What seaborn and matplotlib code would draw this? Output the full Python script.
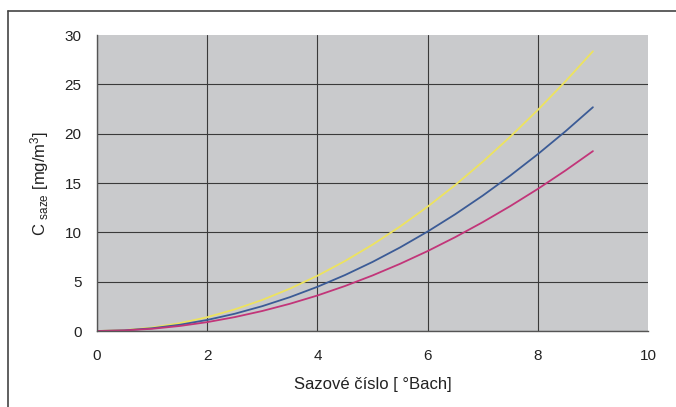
import numpy as np
import pandas as pd
import matplotlib
matplotlib.use('Agg')
import matplotlib.pyplot as plt
from matplotlib.lines import Line2D
import seaborn as sns

# values
x_bach = [0, 0.5, 1, 1.5, 2, 2.5, 3, 3.5, 4, 4.5, 5, 5.5, 6, 6.5, 7, 7.5, 8, 8.5, 9]
c_yellow = [0, 0.09, 0.35, 0.79, 1.4, 2.19, 3.15, 4.29, 5.6, 7.09, 8.75, 10.59,
            12.6, 14.79, 17.15, 19.69, 22.4, 25.29, 28.35]
c_blue = [0, 0.07, 0.28, 0.63, 1.12, 1.75, 2.52, 3.43, 4.48, 5.67, 7.0, 8.47,
          10.08, 11.83, 13.72, 15.75, 17.92, 20.23, 22.68]
c_magenta = [0, 0.06, 0.225, 0.51, 0.9, 1.41, 2.03, 2.76, 3.6, 4.56, 5.63, 6.81,
             8.1, 9.51, 11.03, 12.66, 14.4, 16.26, 18.23]
x_ticks = [0, 2, 4, 6, 8, 10]
y_ticks = [0, 5, 10, 15, 20, 25, 30]

df = pd.concat([
    pd.DataFrame({'x': x_bach, 'c': c_yellow, 's': 'yellow'}),
    pd.DataFrame({'x': x_bach, 'c': c_blue, 's': 'blue'}),
    pd.DataFrame({'x': x_bach, 'c': c_magenta, 's': 'magenta'}),
])
pal = {'yellow': '#ede35e', 'blue': '#3b5b96', 'magenta': '#c23579'}

sns.set_style('white', {'axes.facecolor': '#c9cacc'})
plt.rcParams['font.family'] = ['Liberation Sans', 'DejaVu Sans']
plt.rcParams['mathtext.fontset'] = 'custom'
plt.rcParams['mathtext.rm'] = 'Liberation Sans'
plt.rcParams['mathtext.it'] = 'Liberation Sans'

fig = plt.figure(figsize=(6.76, 4.07), dpi=100)
ax = fig.add_axes([0.1435, 0.1867, 0.8151, 0.7273])
sns.lineplot(data=df, x='x', y='c', hue='s', palette=pal, lw=1.3, legend=False, ax=ax)

ax.set_xlim(0, 10)
ax.set_ylim(0, 30)
ax.set_xticks(x_ticks)
ax.set_yticks(y_ticks)
ax.grid(True, color='#3a3a3a', lw=0.8)
ax.set_axisbelow(True)
ax.xaxis.get_gridlines()[-1].set_visible(False)
ax.yaxis.get_gridlines()[-1].set_visible(False)
for sp in ['top', 'right']:
    ax.spines[sp].set_visible(False)
for sp in ['left', 'bottom']:
    ax.spines[sp].set_color('#555555')
    ax.spines[sp].set_linewidth(1.0)
ax.tick_params(axis='both', length=5, width=0.8, color='#555555',
               labelsize=11, labelcolor='#222222', direction='out')
ax.tick_params(axis='x', pad=8)
ax.tick_params(axis='y', pad=6)

ax.set_xlabel('Sazové číslo [ °Bach]', fontsize=12, color='#222222', labelpad=10)
ax.set_ylabel(r'C $_{\mathrm{saze}}$ [mg/m$^{3}$]', fontsize=12, color='#222222', labelpad=10)

# outer frame (top and left edges only)
fig.add_artist(Line2D([8 / 676, 1], [1 - 11 / 407, 1 - 11 / 407], color='#444444', lw=1.2))
fig.add_artist(Line2D([8 / 676, 8 / 676], [0, 1 - 11 / 407], color='#444444', lw=1.2))

fig.savefig('out.png', dpi=100)
